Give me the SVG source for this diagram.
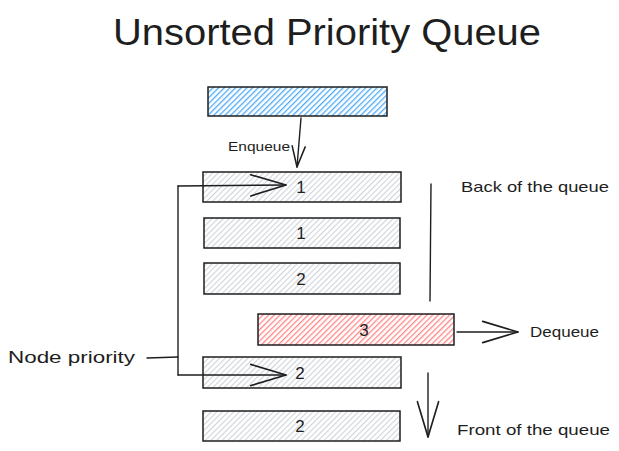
<svg xmlns="http://www.w3.org/2000/svg" width="619" height="451" viewBox="0 0 619 451">
<defs>
<style>
.box{stroke:#1e1e1e;stroke-width:1.5;}
.lbl{font-family:"Liberation Sans","Noto Sans",sans-serif;fill:#1e1e1e;}
.num{font-family:"Liberation Sans","Noto Sans",sans-serif;fill:#1e1e1e;font-size:17px;text-anchor:middle;}
.con{fill:none;stroke:#1e1e1e;stroke-width:1.4;stroke-linecap:round;stroke-linejoin:round;}
</style>
<pattern id="hBlue" patternUnits="userSpaceOnUse" width="4" height="4" patternTransform="rotate(-45)">
<rect width="4" height="4" fill="#ffffff"/><rect y="0" width="4" height="1.3" fill="#4dabf7"/>
</pattern>
<pattern id="hGrey" patternUnits="userSpaceOnUse" width="4" height="4" patternTransform="rotate(-45)">
<rect width="4" height="4" fill="#ffffff"/><rect y="0" width="4" height="1.1" fill="#ced4da"/>
</pattern>
<pattern id="hRed" patternUnits="userSpaceOnUse" width="4" height="4" patternTransform="rotate(-45)">
<rect width="4" height="4" fill="#ffffff"/><rect y="0" width="4" height="1.3" fill="#ff8787"/>
</pattern>
<marker id="big" markerUnits="userSpaceOnUse" markerWidth="40" markerHeight="30" refX="0" refY="0" viewBox="-32 -12 34 24" orient="auto" overflow="visible">
<path d="M-30,-9 L0,0 L-30,9" fill="none" stroke="#1e1e1e" stroke-width="1.4" stroke-linecap="round" stroke-linejoin="round"/>
</marker>
<marker id="small" markerUnits="userSpaceOnUse" markerWidth="24" markerHeight="20" refX="0" refY="0" viewBox="-20 -8 22 16" orient="auto" overflow="visible">
<path d="M-19,-6 L0,0 L-19,6" fill="none" stroke="#1e1e1e" stroke-width="1.4" stroke-linecap="round" stroke-linejoin="round"/>
</marker>
</defs>
<rect width="619" height="451" fill="#ffffff"/>
<text class="lbl" x="327" y="45" font-size="36" text-anchor="middle" textLength="428" lengthAdjust="spacingAndGlyphs">Unsorted Priority Queue</text>

<g id="input-node"><rect class="box" x="208" y="87" width="179" height="29" fill="url(#hBlue)"/></g>
<g id="node1"><rect class="box" x="203" y="172" width="198" height="30" fill="url(#hGrey)"/><text class="num" x="301" y="193">1</text></g>
<g id="node2"><rect class="box" x="204" y="218" width="196" height="30" fill="url(#hGrey)"/><text class="num" x="301" y="239">1</text></g>
<g id="node3"><rect class="box" x="204" y="263" width="196" height="31" fill="url(#hGrey)"/><text class="num" x="301" y="285">2</text></g>
<g id="node4"><rect class="box" x="258" y="314" width="196" height="31" fill="url(#hRed)"/><text class="num" x="364" y="336">3</text></g>
<g id="node5"><rect class="box" x="203" y="357" width="198" height="31" fill="url(#hGrey)"/><text class="num" x="300" y="379">2</text></g>
<g id="node6"><rect class="box" x="203" y="411" width="197" height="30" fill="url(#hGrey)"/><text class="num" x="300" y="432">2</text></g>

<g id="labels">
<text class="lbl" x="228" y="151" font-size="13" textLength="62" lengthAdjust="spacingAndGlyphs">Enqueue</text>
<text class="lbl" x="461" y="192" font-size="15" textLength="148" lengthAdjust="spacingAndGlyphs">Back of the queue</text>
<text class="lbl" x="530" y="337" font-size="15" textLength="69" lengthAdjust="spacingAndGlyphs">Dequeue</text>
<text class="lbl" x="8" y="363" font-size="16" textLength="127" lengthAdjust="spacingAndGlyphs">Node priority</text>
<text class="lbl" x="457" y="435" font-size="15" textLength="153" lengthAdjust="spacingAndGlyphs">Front of the queue</text>
</g>

<g id="connectors">
<path class="con" d="M301,118 L297,167" marker-end="url(#small)"/>
<path class="con" d="M178,186 L286,185" marker-end="url(#big)"/>
<path class="con" d="M178,186 L178,375"/>
<path class="con" d="M178,375 L286,375" marker-end="url(#big)"/>
<path class="con" d="M147,358 L178,357"/>
<path class="con" d="M431,184 L430,301"/>
<path class="con" d="M457,332 L518,332" marker-end="url(#big)"/>
<path class="con" d="M428,373 L428,437" marker-end="url(#big)"/>
</g>
</svg>
